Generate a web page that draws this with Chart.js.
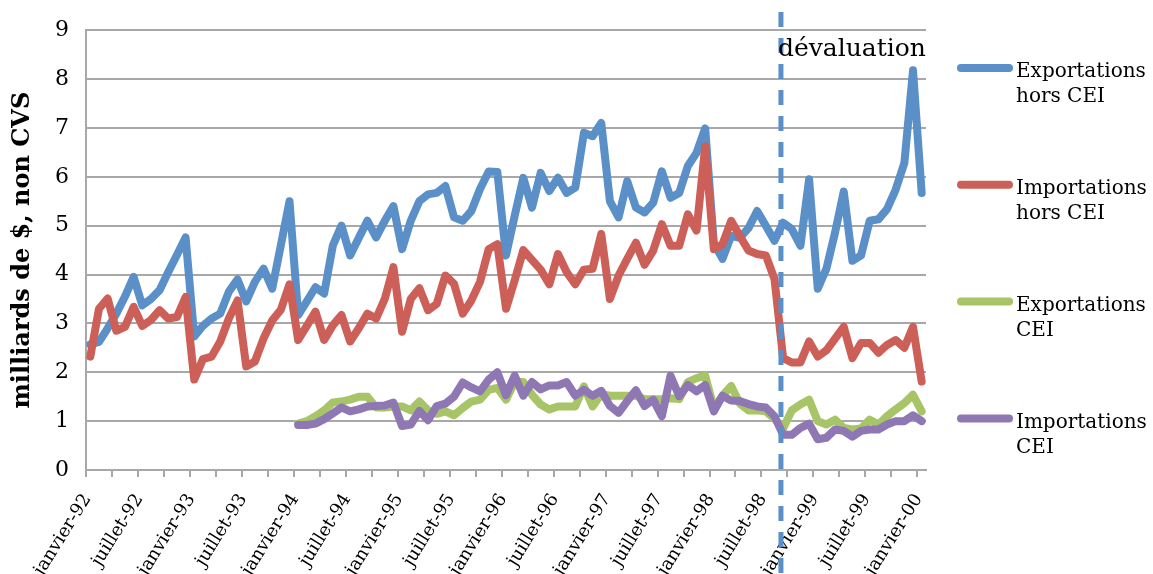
<!DOCTYPE html>
<html>
<head>
<meta charset="utf-8">
<script src="https://cdn.jsdelivr.net/npm/chart.js@4.4.1/dist/chart.umd.min.js"></script>
<style>
html, body { margin: 0; padding: 0; background: #fff; }
#chart { display: block; }
</style>
</head>
<body>
<canvas id="chart" width="1153" height="574"></canvas>
<script>
"use strict";

const monthNames = ['janvier', 'février', 'mars', 'avril', 'mai', 'juin',
	'juillet', 'août', 'septembre', 'octobre', 'novembre', 'décembre'];
const years = ['92', '93', '94', '95', '96', '97', '98', '99', '00'];

// milliards de $, mensuel, janvier-92 .. janvier-00
const exportsHorsCEI = [
	2.57, 2.62, 2.9, 3.2, 3.55, 3.95, 3.37, 3.5, 3.68, 4.05, 4.4, 4.76,
	2.73, 2.95, 3.1, 3.2, 3.65, 3.9, 3.45, 3.85, 4.12, 3.71, 4.6, 5.5,
	3.17, 3.45, 3.74, 3.61, 4.59, 5.0, 4.39, 4.75, 5.1, 4.76, 5.1, 5.4,
	4.52, 5.1, 5.5, 5.64, 5.67, 5.81, 5.17, 5.1, 5.3, 5.75, 6.11, 6.1,
	4.39, 5.2, 5.98, 5.37, 6.08, 5.71, 5.98, 5.67, 5.78, 6.9, 6.83, 7.1,
	5.5, 5.17, 5.91, 5.37, 5.27, 5.47, 6.11, 5.57, 5.67, 6.22, 6.49, 6.99,
	4.65, 4.32, 4.79, 4.75, 4.95, 5.3, 5.0, 4.69, 5.06, 4.93, 4.59, 5.95,
	3.71, 4.12, 4.86, 5.7, 4.28, 4.39, 5.1, 5.13, 5.34, 5.74, 6.28, 8.18,
	5.67
];
const importsHorsCEI = [
	2.32, 3.3, 3.51, 2.85, 2.93, 3.34, 2.95, 3.07, 3.27, 3.1, 3.13, 3.54,
	1.85, 2.27, 2.32, 2.63, 3.1, 3.47, 2.12, 2.22, 2.69, 3.06, 3.28, 3.8,
	2.66, 2.95, 3.24, 2.66, 2.96, 3.17, 2.63, 2.9, 3.2, 3.1, 3.5, 4.15,
	2.83, 3.5, 3.72, 3.27, 3.4, 3.98, 3.81, 3.2, 3.47, 3.85, 4.52, 4.62,
	3.3, 3.88, 4.5, 4.3, 4.1, 3.8, 4.42, 4.05, 3.8, 4.1, 4.12, 4.83,
	3.5, 3.98, 4.32, 4.65, 4.2, 4.49, 5.03, 4.59, 4.59, 5.23, 4.9, 6.62,
	4.52, 4.62, 5.1, 4.79, 4.49, 4.42, 4.39, 3.91, 2.29, 2.2, 2.2, 2.63,
	2.32, 2.45, 2.69, 2.93, 2.29, 2.6, 2.6, 2.4, 2.56, 2.66, 2.5, 2.93,
	1.81
];
// CEI series start in janvier-94
const cieStart = 24;
const exportsCEI = [
	0.95, 1.0, 1.1, 1.22, 1.38, 1.4, 1.44, 1.5, 1.5, 1.28, 1.28, 1.3,
	1.3, 1.22, 1.4, 1.22, 1.15, 1.2, 1.12, 1.27, 1.4, 1.44, 1.64, 1.68,
	1.44, 1.8, 1.8, 1.54, 1.34, 1.24, 1.3, 1.3, 1.3, 1.71, 1.3, 1.55,
	1.52, 1.52, 1.52, 1.52, 1.45, 1.45, 1.45, 1.47, 1.45, 1.8, 1.88, 1.93,
	1.27, 1.52, 1.72, 1.36, 1.22, 1.22, 1.2, 1.05, 0.85, 1.22, 1.34, 1.44,
	1.0, 0.93, 1.03, 0.86, 0.83, 0.85, 1.03, 0.93, 1.1, 1.24, 1.37, 1.54,
	1.2
];
const importsCEI = [
	0.92, 0.92, 0.95, 1.04, 1.16, 1.28, 1.2, 1.24, 1.3, 1.31, 1.32, 1.38,
	0.9, 0.93, 1.21, 1.02, 1.31, 1.36, 1.5, 1.79, 1.69, 1.61, 1.85, 2.0,
	1.53, 1.93, 1.52, 1.8, 1.65, 1.73, 1.73, 1.8, 1.52, 1.64, 1.52, 1.62,
	1.31, 1.17, 1.41, 1.63, 1.31, 1.44, 1.1, 1.93, 1.51, 1.74, 1.61, 1.74,
	1.2, 1.52, 1.42, 1.41, 1.35, 1.3, 1.28, 1.1, 0.72, 0.72, 0.86, 0.95,
	0.63, 0.66, 0.83, 0.8, 0.68, 0.8, 0.83, 0.83, 0.93, 1.0, 1.0, 1.12,
	1.0
];
const seriesLabels = [
	['Exportations', 'hors CEI'],
	['Importations', 'hors CEI'],
	['Exportations', 'CEI'],
	['Importations', 'CEI']
];
// position of the devaluation (August 1998), as a month index
const devaluationAt = 79.75;

const serif = "'DejaVu Serif', serif";
const grey = '#A8A8A8';
const colors = ['#5A8FC8', '#CC5F57', '#A7C467', '#8E77B2'];

function buildLabels() {
	const labels = [];
	for (let y = 0; y < years.length; y++) {
		for (let m = 0; m < 12; m++) {
			if (labels.length < exportsHorsCEI.length) {
				labels.push(monthNames[m] + '-' + years[y]);
			}
		}
	}
	return labels;
}

function padCEI(values) {
	const out = [];
	for (let i = 0; i < cieStart; i++) {
		out.push(null);
	}
	return out.concat(values);
}

function lineDataset(label, data, color, order) {
	return {
		label: label,
		data: data,
		borderColor: color,
		backgroundColor: color,
		borderWidth: 8,
		borderJoinStyle: 'round',
		borderCapStyle: 'round',
		pointRadius: 0,
		tension: 0,
		fill: false,
		order: order,
	};
}

// dashed marker + label for the devaluation
const devaluationPlugin = {
	id: 'devaluation',
	afterDatasetsDraw: function(chart) {
		const ctx = chart.ctx;
		const x = chart.scales.x.getPixelForValue(devaluationAt);
		ctx.save();
		ctx.strokeStyle = colors[0];
		ctx.lineWidth = 5;
		ctx.setLineDash([15, 11]);
		ctx.beginPath();
		ctx.moveTo(x, 12);
		ctx.lineTo(x, chart.height);
		ctx.stroke();
		ctx.setLineDash([]);
		ctx.fillStyle = '#000';
		ctx.font = '25px ' + serif;
		ctx.textAlign = 'left';
		ctx.textBaseline = 'alphabetic';
		ctx.fillText('dévaluation', x - 3, 56);
		ctx.restore();
	}
};

// legend on the right, two text lines per series
const sideLegendPlugin = {
	id: 'sideLegend',
	afterDraw: function(chart) {
		const ctx = chart.ctx;
		ctx.save();
		ctx.font = '20px ' + serif;
		ctx.textBaseline = 'middle';
		ctx.textAlign = 'left';
		chart.data.datasets.forEach(function(ds, i) {
			const y = 68 + i * 116.8;
			ctx.strokeStyle = ds.borderColor;
			ctx.lineWidth = 8;
			ctx.lineCap = 'round';
			ctx.beginPath();
			ctx.moveTo(961, y);
			ctx.lineTo(1009, y);
			ctx.stroke();
			ctx.fillStyle = '#000';
			ds.label.forEach(function(line, k) {
				ctx.fillText(line, 1016, y + 4 + k * 25);
			});
		});
		ctx.restore();
	}
};

const labels = buildLabels();

new Chart(document.getElementById('chart'), {
	type: 'line',
	data: {
		labels: labels,
		datasets: [
			lineDataset(seriesLabels[0], exportsHorsCEI, colors[0], 4),
			lineDataset(seriesLabels[1], importsHorsCEI, colors[1], 3),
			lineDataset(seriesLabels[2], padCEI(exportsCEI), colors[2], 2),
			lineDataset(seriesLabels[3], padCEI(importsCEI), colors[3], 1),
		]
	},
	options: {
		responsive: false,
		animation: false,
		layout: {
			padding: { top: 28, right: 227, left: 0, bottom: 0 }
		},
		plugins: {
			legend: { display: false },
			tooltip: { enabled: false },
		},
		scales: {
			x: {
				offset: true,
				grid: {
					offset: true,
					drawOnChartArea: false,
					drawTicks: true,
					tickLength: 7,
					lineWidth: 2,
					color: function(c) {
						return c.index % 3 === 0 ? grey : 'rgba(0,0,0,0)';
					},
				},
				border: { color: grey, width: 2 },
				ticks: {
					autoSkip: false,
					minRotation: 58,
					maxRotation: 58,
					padding: 13,
					labelOffset: -3,
					color: '#000',
					font: { family: serif, size: 18 },
					callback: function(val, index) {
						return index % 6 === 0 ? labels[index] : '';
					}
				},
				afterFit: function(scale) {
					scale.height = 104;
				}
			},
			y: {
				min: 0,
				max: 9,
				ticks: {
					stepSize: 1,
					padding: 17,
					color: '#000',
					font: { family: serif, size: 22 },
				},
				grid: { color: grey, lineWidth: 2, drawTicks: false },
				border: { display: true, color: grey, width: 2 },
				title: {
					display: true,
					text: 'milliards de $, non CVS',
					color: '#000',
					font: { family: serif, size: 24, weight: 'bold' },
					padding: { top: 8, bottom: 0 },
				},
				afterFit: function(scale) {
					scale.width = 86;
				}
			}
		}
	},
	plugins: [devaluationPlugin, sideLegendPlugin]
});
</script>
</body>
</html>
